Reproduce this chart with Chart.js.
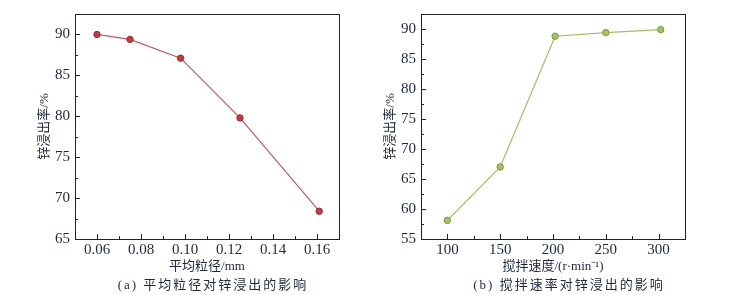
<!DOCTYPE html>
<html lang="zh">
<head>
<meta charset="UTF-8">
<title>锌浸出率</title>
<script src="https://cdn.jsdelivr.net/npm/chart.js"></script>
<style>
    body { margin: 0; background: #fff; }
    .wrap { position: relative; width: 746px; height: 295px; }
    .box { position: absolute; top: 0; width: 373px; height: 295px; }
    #boxA { left: 0; }
    #boxB { left: 373px; }
</style>
</head>
<body>
<div class="wrap">
    <div class="box" id="boxA"><canvas id="chartA"></canvas></div>
    <div class="box" id="boxB"><canvas id="chartB"></canvas></div>
</div>

<script>
    // (a) particle size vs zinc leaching rate
    const sizeA = [0.06, 0.075, 0.098, 0.125, 0.161];
    const rateA = [90.0, 89.4, 87.1, 79.8, 68.4];
    const xTicksA = [0.06, 0.08, 0.10, 0.12, 0.14, 0.16];
    const xMinorA = [0.05, 0.07, 0.09, 0.11, 0.13, 0.15, 0.17];
    const yTicksA = [65, 70, 75, 80, 85, 90];
    const yMinorA = [67.5, 72.5, 77.5, 82.5, 87.5, 92.5];

    // (b) stirring speed vs zinc leaching rate
    const speedB = [100, 150, 202, 250, 302];
    const rateB = [58.1, 67.0, 88.8, 89.4, 89.9];
    const xTicksB = [100, 150, 200, 250, 300];
    const xMinorB = [75, 125, 175, 225, 275, 325];
    const yTicksB = [55, 60, 65, 70, 75, 80, 85, 90];
    const yMinorB = [57.5, 62.5, 67.5, 72.5, 77.5, 82.5, 87.5, 92.5];

    const tickFont = { family: 'Liberation Serif', size: 15 };
    const cjkFont = { family: "'Liberation Serif', 'Noto Sans CJK SC'", size: 13 };
    const textColor = '#1e2742';

    // frame, inward tick marks and caption
    const framePlugin = {
        id: 'frame',
        afterDraw(chart, args, opts) {
            const ctx = chart.ctx;
            const a = chart.chartArea;
            const xs = chart.scales.x, ys = chart.scales.y;
            ctx.save();
            ctx.strokeStyle = '#222';
            ctx.lineWidth = 1;
            ctx.strokeRect(Math.round(a.left) + 0.5, Math.round(a.top) + 0.5,
                Math.round(a.right - a.left), Math.round(a.bottom - a.top));
            ctx.beginPath();
            const mark = (vals, len, horiz) => {
                vals.forEach(v => {
                    if (horiz) {
                        const px = Math.round(xs.getPixelForValue(v)) + 0.5;
                        ctx.moveTo(px, a.bottom);
                        ctx.lineTo(px, a.bottom - len);
                    } else {
                        const py = Math.round(ys.getPixelForValue(v)) + 0.5;
                        ctx.moveTo(a.left, py);
                        ctx.lineTo(a.left + len, py);
                    }
                });
            };
            mark(opts.xMajor, 5, true);
            mark(opts.xMinor, 3, true);
            mark(opts.yMajor, 5, false);
            mark(opts.yMinor, 3, false);
            ctx.stroke();

            ctx.fillStyle = textColor;
            ctx.font = "13px 'Liberation Serif', 'Noto Sans CJK SC'";
            ctx.letterSpacing = '2px';
            ctx.textAlign = 'center';
            ctx.textBaseline = 'middle';
            ctx.fillText(opts.caption, opts.capX, 286);
            ctx.restore();
        }
    };

    function makeChart(id, xs, ys, cfg) {
        return new Chart(document.getElementById(id), {
            type: 'line',
            data: {
                datasets: [{
                    data: xs.map((x, i) => ({ x: x, y: ys[i] })),
                    borderColor: cfg.line,
                    borderWidth: 1.2,
                    backgroundColor: cfg.fill,
                    pointBorderColor: cfg.edge,
                    pointBorderWidth: 1,
                    pointRadius: 3.2,
                    tension: 0
                }]
            },
            options: {
                responsive: true,
                maintainAspectRatio: false,
                animation: false,
                layout: { padding: { top: 13, right: cfg.padRight, left: 0, bottom: 0 } },
                plugins: {
                    legend: { display: false },
                    tooltip: { enabled: false },
                    frame: {
                        xMajor: cfg.xTicks, xMinor: cfg.xMinor,
                        yMajor: cfg.yTicks, yMinor: cfg.yMinor,
                        caption: cfg.caption, capX: cfg.capX
                    }
                },
                scales: {
                    x: {
                        type: 'linear',
                        min: cfg.xMin, max: cfg.xMax,
                        grid: { display: false, drawTicks: false },
                        border: { display: false },
                        afterBuildTicks: s => { s.ticks = cfg.xTicks.map(v => ({ value: v })); },
                        afterFit: s => { s.height = 56; },
                        ticks: {
                            font: tickFont, color: textColor, padding: 2, maxRotation: 0,
                            callback: cfg.xFmt
                        },
                        title: {
                            display: true, text: cfg.xTitle, font: cjkFont, color: textColor,
                            padding: { top: 0, bottom: 21 }
                        }
                    },
                    y: {
                        min: cfg.yMin, max: 92.5,
                        grid: { display: false, drawTicks: false },
                        border: { display: false },
                        afterBuildTicks: s => { s.ticks = cfg.yTicks.map(v => ({ value: v })); },
                        afterFit: s => { s.width = cfg.yWidth; },
                        ticks: { font: tickFont, color: textColor, padding: 5 },
                        title: {
                            display: true, text: '锌浸出率/%', font: cjkFont, color: textColor,
                            padding: { top: cfg.yTitlePad, bottom: 0 }
                        }
                    }
                }
            },
            plugins: [framePlugin]
        });
    }

    makeChart('chartA', sizeA, rateA, {
        line: '#c9575a', fill: '#c8383f', edge: '#9e2a30',
        padRight: 34, yWidth: 75, yTitlePad: 37,
        xMin: 0.05, xMax: 0.17, yMin: 65,
        xTicks: xTicksA, xMinor: xMinorA, yTicks: yTicksA, yMinor: yMinorA,
        xFmt: v => v.toFixed(2),
        xTitle: '平均粒径/mm',
        caption: '(a) 平均粒径对锌浸出的影响', capX: 213
    });

    makeChart('chartB', speedB, rateB, {
        line: '#9cc35a', fill: '#a3c85a', edge: '#76983a',
        padRight: 61, yWidth: 48, yTitlePad: 10,
        xMin: 75, xMax: 325, yMin: 55,
        xTicks: xTicksB, xMinor: xMinorB, yTicks: yTicksB, yMinor: yMinorB,
        xFmt: v => String(v),
        xTitle: '搅拌速度/(r·min⁻¹)',
        caption: '(b) 搅拌速率对锌浸出的影响', capX: 196
    });
</script>
</body>
</html>
